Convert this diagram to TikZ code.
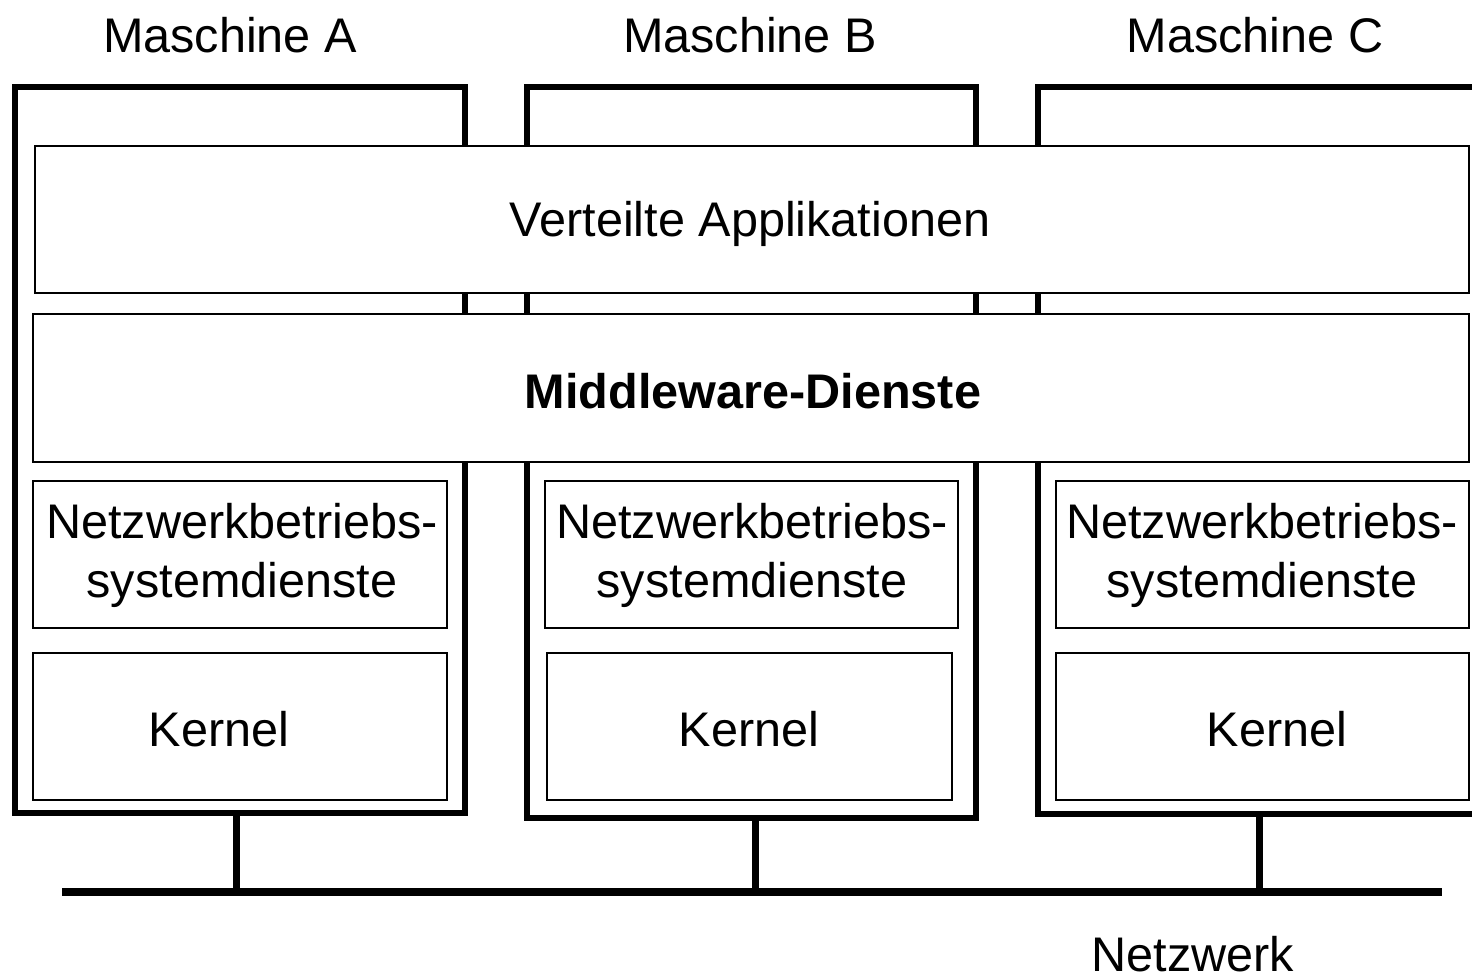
\documentclass[tikz,border=0pt]{standalone}
\usepackage{fontspec}
\setmainfont{Liberation Sans}
\begin{document}
\begin{tikzpicture}[x=0.5pt,y=-0.5pt,
  machine/.style={draw, line width=3pt, rectangle, inner sep=0pt},
  layer/.style={draw, line width=1.4pt, fill=white, rectangle, inner sep=0pt},
  lbl/.style={font=\fontsize{24.3pt}{29.5pt}\selectfont, align=center, inner sep=0pt},
  net/.style={line width=4pt},
  stem/.style={line width=3.5pt}]
\useasboundingbox (0,0) rectangle (1472,974);
\clip (0,0) rectangle (1472,974);
% machines
\node[machine, minimum width=225pt, minimum height=363pt] (mA) at (240,450) {};
\node[machine, minimum width=224.5pt, minimum height=365.5pt] (mB) at (751.5,452.5) {};
\node[machine, minimum width=226pt, minimum height=363.5pt] (mC) at (1264,450.5) {};
% titles
\node[lbl] (tA) at (230,35) {Maschine A};
\node[lbl] (tB) at (750,35) {Maschine B};
\node[lbl] (tC) at (1255,35) {Maschine C};
% layers
\node[layer, minimum width=717pt, minimum height=73.5pt] (app) at (752,219.5) {};
\node[lbl] at (750,224) {Verteilte Applikationen};
\node[layer, minimum width=718pt, minimum height=74pt] (mw) at (751,388) {};
\node[lbl, font=\fontsize{24.3pt}{29.5pt}\selectfont\bfseries] at (753,391) {Middleware-Dienste};
% network OS services
\node[layer, minimum width=207pt, minimum height=73.5pt] (nA) at (240,554.5) {};
\node[layer, minimum width=206.5pt, minimum height=73.5pt] (nB) at (751.5,554.5) {};
\node[layer, minimum width=206.5pt, minimum height=73.5pt] (nC) at (1262.5,554.5) {};
\node[lbl] at (242,555) {Netzwerkbetriebs-\\systemdienste};
\node[lbl] at (752,555) {Netzwerkbetriebs-\\systemdienste};
\node[lbl] at (1262,555) {Netzwerkbetriebs-\\systemdienste};
% kernels
\node[layer, minimum width=207pt, minimum height=73.5pt] (kA) at (240,726.5) {};
\node[layer, minimum width=202.5pt, minimum height=73.5pt] (kB) at (749.5,726.5) {};
\node[layer, minimum width=206.5pt, minimum height=73.5pt] (kC) at (1262.5,726.5) {};
\node[lbl] at (219,729) {Kernel};
\node[lbl] at (749,729) {Kernel};
\node[lbl] at (1277,729) {Kernel};
% network
\coordinate (nl) at (62,892);
\coordinate (nr) at (1442,892);
\draw[net] (nl) -- (nr);
\coordinate (sA) at (236,892);
\coordinate (sB) at (755,892);
\coordinate (sC) at (1259,892);
\draw[stem] (mA.south -| sA) -- (sA);
\draw[stem] (mB.south -| sB) -- (sB);
\draw[stem] (mC.south -| sC) -- (sC);
\node[lbl, anchor=base] (netz) at (1193,971) {Netzwerk};
\end{tikzpicture}
\end{document}
